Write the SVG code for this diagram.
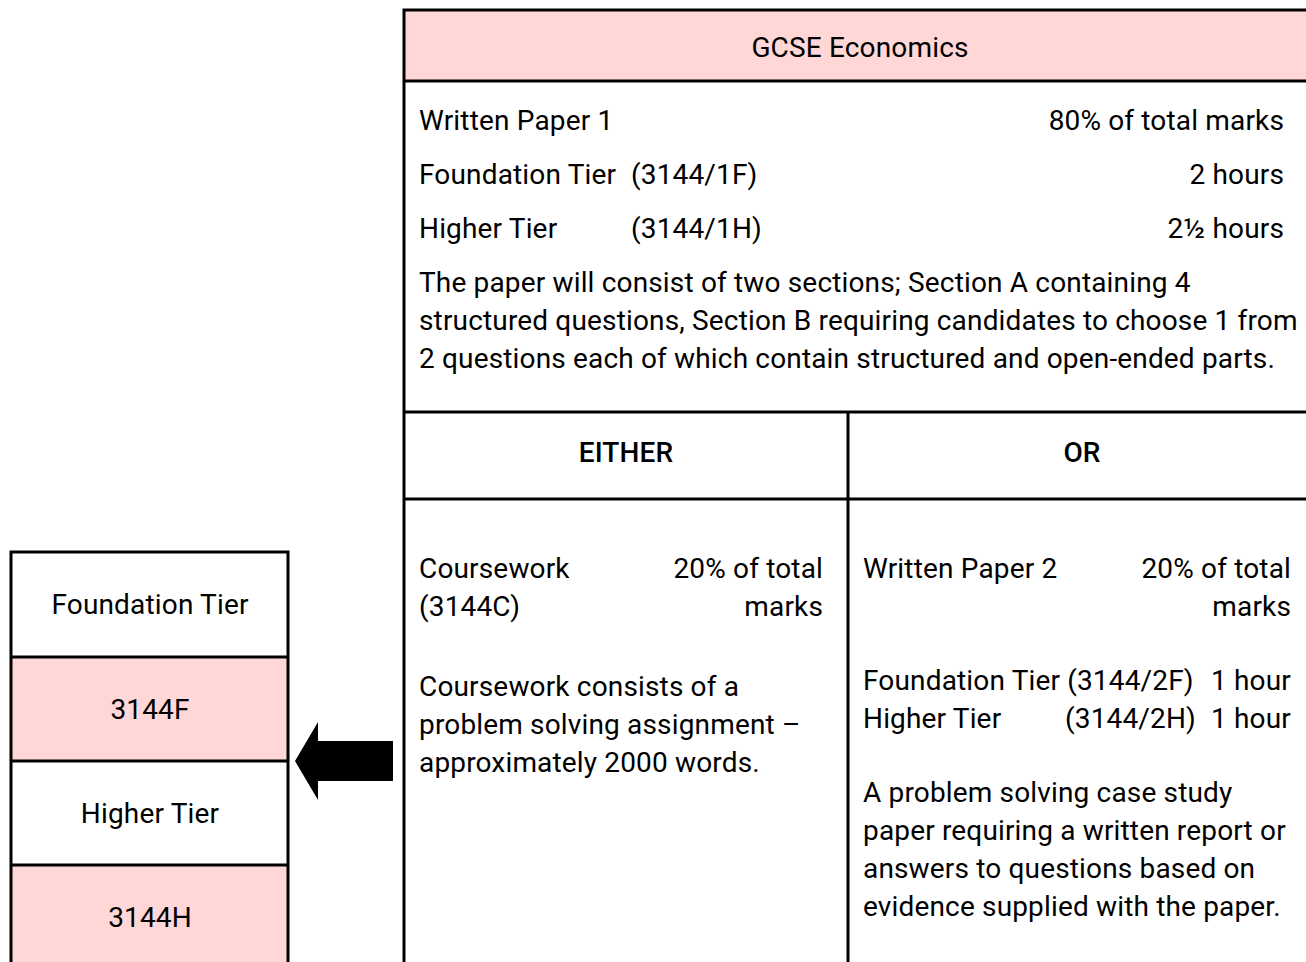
<svg xmlns="http://www.w3.org/2000/svg" width="1306" height="962" viewBox="0 0 1306 962">
  <style>
    text { font-family: Roboto, "Noto Sans", sans-serif; font-size: 28px; letter-spacing: 0.16px; fill: #000; }
    .c { text-anchor: middle; }
    .r { text-anchor: end; }
    .b { font-weight: 500; }
    .rule { stroke: #000; stroke-width: 3; fill: none; }
    .pink { fill: #FFD7D7; }
  </style>

  <!-- Main specification table -->
  <g id="spec-table">
    <rect class="pink" x="404" y="10" width="904" height="71"/>
    <path class="rule" d="M404 962 V10 H1308 M404 81 H1308 M404 412 H1308 M404 499 H1308 M848 412 V962"/>
    <text class="c" x="860" y="57">GCSE Economics</text>

    <text x="419" y="130">Written Paper 1</text>
    <text class="r" x="1284" y="130">80% of total marks</text>
    <text x="419" y="184">Foundation Tier</text>
    <text x="631" y="184">(3144/1F)</text>
    <text class="r" x="1284" y="184">2 hours</text>
    <text x="419" y="238">Higher Tier</text>
    <text x="631" y="238">(3144/1H)</text>
    <text class="r" x="1284" y="238">2½ hours</text>
    <text x="419" y="292">The paper will consist of two sections; Section A containing 4</text>
    <text x="419" y="330">structured questions, Section B requiring candidates to choose 1 from</text>
    <text x="419" y="368">2 questions each of which contain structured and open-ended parts.</text>

    <text class="c b" x="626" y="462">EITHER</text>
    <text class="c b" x="1082" y="462">OR</text>

    <text x="419" y="578">Coursework</text>
    <text class="r" x="823" y="578">20% of total</text>
    <text x="419" y="616">(3144C)</text>
    <text class="r" x="823" y="616">marks</text>
    <text x="419" y="696">Coursework consists of a</text>
    <text x="419" y="734">problem solving assignment –</text>
    <text x="419" y="772">approximately 2000 words.</text>

    <text x="863" y="578">Written Paper 2</text>
    <text class="r" x="1291" y="578">20% of total</text>
    <text class="r" x="1291" y="616">marks</text>
    <text x="863" y="690">Foundation Tier (3144/2F)</text>
    <text class="r" x="1291" y="690">1 hour</text>
    <text x="863" y="728">Higher Tier</text>
    <text x="1065" y="728">(3144/2H)</text>
    <text class="r" x="1291" y="728">1 hour</text>
    <text x="863" y="802">A problem solving case study</text>
    <text x="863" y="840">paper requiring a written report or</text>
    <text x="863" y="878">answers to questions based on</text>
    <text x="863" y="916">evidence supplied with the paper.</text>
  </g>

  <!-- Tier code boxes -->
  <g id="tier-codes">
    <rect x="11" y="552" width="277" height="105" fill="#fff"/>
    <rect class="pink" x="11" y="657" width="277" height="104"/>
    <rect x="11" y="761" width="277" height="104" fill="#fff"/>
    <rect class="pink" x="11" y="865" width="277" height="100"/>
    <path class="rule" d="M11 965 V552 H288 V965 M11 657 H288 M11 761 H288 M11 865 H288"/>
    <text class="c" x="150" y="614">Foundation Tier</text>
    <text class="c" x="150" y="719">3144F</text>
    <text class="c" x="150" y="823">Higher Tier</text>
    <text class="c" x="150" y="927">3144H</text>
  </g>

  <!-- Block arrow pointing to the tier codes -->
  <g id="connectors">
    <polygon points="295,761 318,722 318,741 393,741 393,781 318,781 318,800" fill="#000"/>
  </g>
</svg>
